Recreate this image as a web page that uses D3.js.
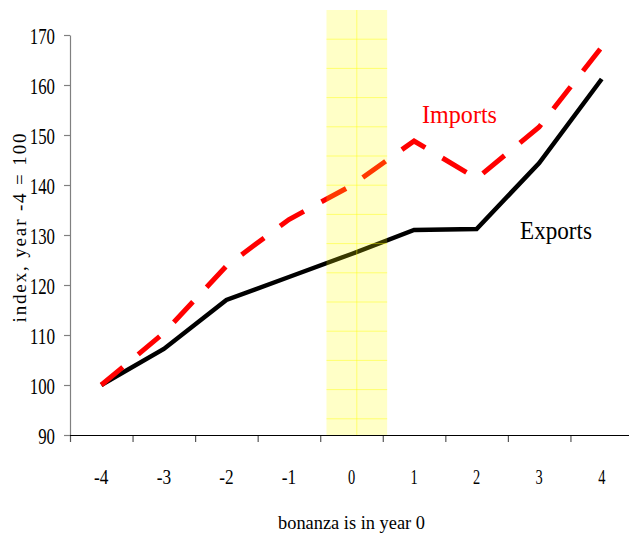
<!DOCTYPE html>
<html>
<head>
<meta charset="utf-8">
<script src="https://cdn.jsdelivr.net/npm/d3@7"></script>
<style>
  html, body { margin: 0; padding: 0; background: #fff; }
  svg { display: block; }
  text { font-family: "Liberation Serif", "Times New Roman", serif; }
</style>
</head>
<body>
<script>
// ---- data ----
const years = [-4, -3, -2, -1, 0, 1, 2, 3, 4];
const exportsIdx = [100, 107.2, 117, 121.6, 126.2, 131, 131.2, 144.4, 161.2];
const importsIdx = [100, 110.4, 123.8, 133.1, 139.9, 148.8, 141.3, 151.6, 167.6];
const yTicks = [90, 100, 110, 120, 130, 140, 150, 160, 170];
const highlight = [-0.4, 0.57];   // bonanza year shading (in year units)
const highlightTop = 175;
const labels = { imports: "Imports", exports: "Exports",
                 xTitle: "bonanza is in year 0", yTitle: "index, year -4 = 100" };

// ---- layout ----
const W = 629, H = 537;
const svg = d3.select("body").append("svg").attr("width", W).attr("height", H);

const xBand = d3.scaleBand().domain(years.map(String)).range([70, 633]).padding(0);
const xLin = d3.scaleLinear().domain([-4.5, 4.5]).range([70, 633]);
const y = d3.scaleLinear().domain([90, 170]).range([435, 35]);
const cx = d => xBand(String(d)) + xBand.bandwidth() / 2;

// lines
const line = d3.line().x(d => cx(d.x)).y(d => y(d.v));
const expData = years.map((x, i) => ({ x, v: exportsIdx[i] }));
const impData = years.map((x, i) => ({ x, v: importsIdx[i] }));

svg.append("path").datum(expData).attr("d", line)
  .attr("fill", "none").attr("stroke", "#000").attr("stroke-width", 4.5)
  .attr("stroke-linejoin", "miter");

svg.append("path").datum(impData).attr("d", line)
  .attr("fill", "none").attr("stroke", "#ff0000").attr("stroke-width", 5)
  .attr("stroke-dasharray", "28,20").attr("stroke-linejoin", "miter");

// highlight band (semi-transparent, over lines)
const hx0 = xLin(highlight[0]), hx1 = xLin(highlight[1]);
const hy0 = y(highlightTop), hy1 = y(90);
const hg = svg.append("g");
hg.append("rect").attr("x", hx0).attr("y", hy0).attr("width", hx1 - hx0).attr("height", hy1 - hy0)
  .attr("fill", "#ffff00").attr("fill-opacity", 0.22);
const gridStep = 29.2;
for (let gy = hy0 + gridStep; gy < hy1; gy += gridStep) {
  hg.append("line").attr("x1", hx0).attr("x2", hx1).attr("y1", gy).attr("y2", gy)
    .attr("stroke", "#ffff00").attr("stroke-opacity", 0.45).attr("stroke-width", 1);
}
hg.append("line").attr("x1", (hx0 + hx1) / 2).attr("x2", (hx0 + hx1) / 2).attr("y1", hy0).attr("y2", hy1)
  .attr("stroke", "#ffff00").attr("stroke-opacity", 0.45).attr("stroke-width", 1);

// y axis
const yAxis = svg.append("g").attr("transform", "translate(70,0)")
  .call(d3.axisLeft(y).tickValues(yTicks).tickSize(6).tickSizeOuter(0).tickPadding(9));
yAxis.select(".domain").attr("stroke", "#808080").attr("stroke-width", 1.2);
yAxis.selectAll(".tick line").attr("stroke", "#808080").attr("stroke-width", 1.2);
yAxis.selectAll(".tick text")
  .attr("font-family", "Liberation Serif, serif").attr("font-size", 24).attr("fill", "#000")
  .attr("dy", "0.34em")
  .attr("textLength", d => String(d).length * 8.4).attr("lengthAdjust", "spacingAndGlyphs");

// x axis: tick marks at category boundaries
const bounds = d3.range(-4.5, 5, 1);
const xAxisTicks = svg.append("g").attr("transform", "translate(0,435)")
  .call(d3.axisBottom(xLin).tickValues(bounds).tickSize(7).tickSizeOuter(0).tickFormat(""));
xAxisTicks.select(".domain").remove();
xAxisTicks.selectAll(".tick line").attr("stroke", "#555").attr("stroke-width", 1.2);
svg.append("line").attr("x1", 70).attr("x2", W).attr("y1", 435.5).attr("y2", 435.5)
  .attr("stroke", "#000").attr("stroke-width", 1.2);

// x labels at category centers
const xAxisLabels = svg.append("g").attr("transform", "translate(0,435)")
  .call(d3.axisBottom(xBand).tickSize(0).tickPadding(0));
xAxisLabels.select(".domain").remove();
xAxisLabels.selectAll(".tick text")
  .attr("font-family", "Liberation Serif, serif").attr("font-size", 20).attr("fill", "#000")
  .attr("y", 49).attr("dy", 0)
  .attr("textLength", d => d.length * 7.2).attr("lengthAdjust", "spacingAndGlyphs");

// series labels
svg.append("text").attr("x", 422).attr("y", 123).text(labels.imports)
  .attr("font-size", 25).attr("fill", "#ff0000")
  .attr("textLength", 75).attr("lengthAdjust", "spacingAndGlyphs");
svg.append("text").attr("x", 520).attr("y", 239).text(labels.exports)
  .attr("font-size", 25).attr("fill", "#000")
  .attr("textLength", 72).attr("lengthAdjust", "spacingAndGlyphs");

// axis titles
svg.append("text").attr("x", 351.5).attr("y", 529).attr("text-anchor", "middle")
  .text(labels.xTitle).attr("font-size", 18.5).attr("fill", "#000")
  .attr("textLength", 147).attr("lengthAdjust", "spacingAndGlyphs");
svg.append("text").attr("transform", "translate(26,228) rotate(-90)").attr("text-anchor", "middle")
  .text(labels.yTitle).attr("font-size", 19).attr("fill", "#000")
  .attr("textLength", 189).attr("lengthAdjust", "spacing");
</script>
</body>
</html>
